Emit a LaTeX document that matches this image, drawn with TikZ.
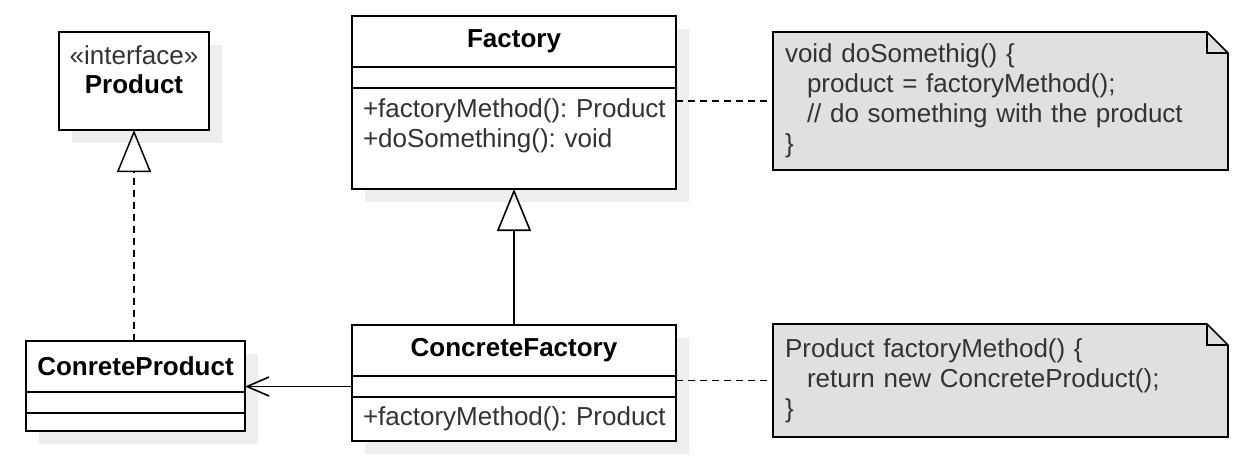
\documentclass[tikz,border=0pt]{standalone}
\usepackage{fontspec}
\setmainfont{Liberation Sans}
\usepackage{tikz}
\usetikzlibrary{arrows.meta,positioning,fit,backgrounds}
\definecolor{notegray}{HTML}{E0E0E0}
\definecolor{shade}{HTML}{EEEEEE}
\definecolor{ink}{HTML}{333333}

\begin{document}
\frenchspacing
\begin{tikzpicture}[x=1pt,y=-1pt,font=\fontsize{26}{30}\selectfont,
  cls/.style={draw,line width=1.6pt,fill=white,outer sep=0pt,inner sep=0pt},
  ops/.style={text=ink,align=left,inner xsep=11pt,text width=302pt},
  note/.style={text=ink,align=left,inner xsep=12pt,inner ysep=0pt,outer sep=0pt,minimum width=455pt,text width=431pt},
  dashline/.style={line width=1.5pt,dash pattern=on 7pt off 5pt},
  gen/.style={line width=1.6pt,-{Triangle[open,length=42pt,width=34pt]}},
  shadow/.style={fill=shade,inner sep=0pt,xshift=13pt,yshift=-13pt}]
\useasboundingbox (0,0) rectangle (1243,456);
% classes
\node[cls,minimum width=150pt,minimum height=98pt,align=center,font=\fontsize{26}{29}\selectfont] (prod) at (134,81) {\textcolor{ink}{«interface»}\\\textbf{Product}\\[-6pt]\mbox{}};
\node[cls,minimum width=324pt,minimum height=51pt] (fac) at (514,41.5) {\bfseries Factory};
\node[cls,minimum width=324pt,minimum height=21pt,below=0pt of fac] (facA) {};
\node[cls,ops,minimum height=101pt,below=0pt of facA] (facM) {\mbox{+factoryMethod(): Product}\\\mbox{+doSomething(): void}\\\mbox{}};
\node[cls,minimum width=324pt,minimum height=51pt] (cfac) at (514,350.5) {\bfseries ConcreteFactory};
\node[cls,minimum width=324pt,minimum height=21pt,below=0pt of cfac] (cfacA) {};
\node[cls,ops,minimum height=44pt,below=0pt of cfacA] (cfacM) {\mbox{+factoryMethod(): Product}};
\node[cls,minimum width=219pt,minimum height=51pt] (cprod) at (135.5,366.5) {\bfseries ConreteProduct};
\node[cls,minimum width=219pt,minimum height=21pt,below=0pt of cprod] (cprodA) {};
\node[cls,minimum width=219pt,minimum height=18pt,below=0pt of cprodA] (cprodM) {};
% notes
\node[note,minimum height=138pt] (n1) at (1000.5,101) {void doSomethig() \{\\\hspace*{22pt}product = factoryMethod();\\\hspace*{22pt}// do something with the product\\\}};
\node[note,minimum height=113pt] (n2) at (1000.5,380.5) {Product factoryMethod() \{\\\hspace*{22pt}return new ConcreteProduct();\\\}};
\begin{scope}[on background layer]
\node[shadow,fit=(prod)] (prodS) {};
\node[shadow,fit=(fac)(facM)] (facS) {};
\node[shadow,fit=(cfac)(cfacM)] (cfacS) {};
\node[shadow,fit=(cprod)(cprodM)] (cprodS) {};
\foreach \n in {n1,n2}
  \draw[line width=1.6pt,fill=notegray] (\n.south west) -- (\n.north west) -- ([xshift=-21pt]\n.north east) -- ([yshift=-21pt]\n.north east) -- (\n.south east) -- cycle;
\end{scope}
\foreach \n in {n1,n2}
  \draw[line width=1.6pt] ([xshift=-21pt]\n.north east) |- ([yshift=-21pt]\n.north east);
% connectors
\draw[gen,dashline] (cprod.north -| prod.south) -- (prod.south);
\draw[gen] (cfac.north) -- (facM.south);
\draw[line width=1.6pt,-{Straight Barb[length=22pt,width=19pt]}] (cfacA.west) -- (cfacA.west -| cprod.east);
\draw[dashline] (fac.east |- n1.west) -- (n1.west);
\draw[dashline] (cfac.east |- n2.west) -- (n2.west);
\end{tikzpicture}
\end{document}
